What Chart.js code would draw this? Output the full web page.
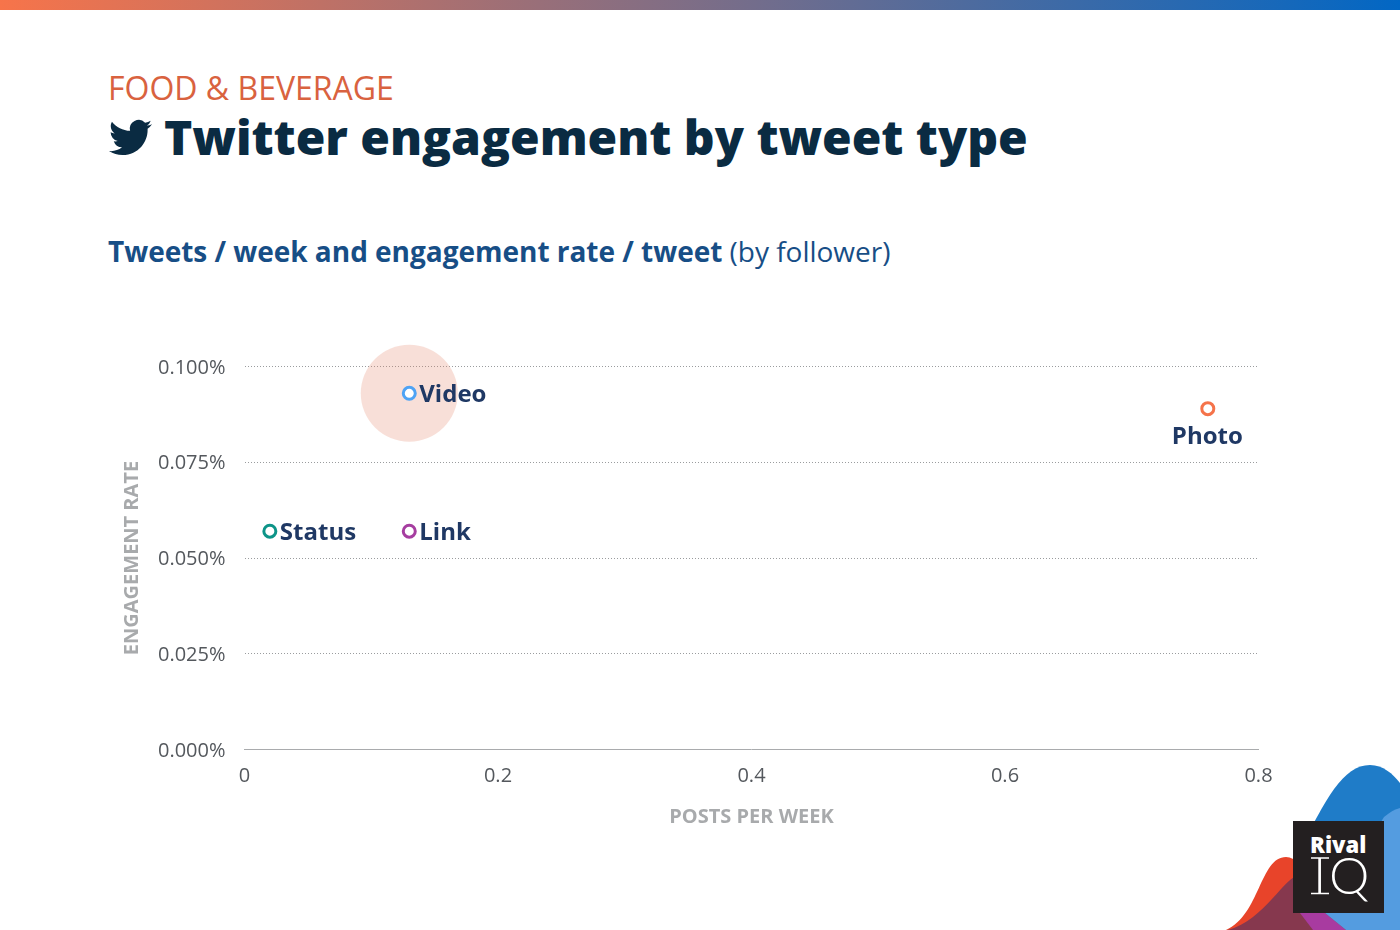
<!DOCTYPE html>
<html>
<head>
<meta charset="utf-8">
<title>Twitter engagement by tweet type</title>
<script src="https://cdn.jsdelivr.net/npm/chart.js@4"></script>
<style>
  html, body { margin: 0; padding: 0; background: #fff; }
  body { width: 1400px; height: 930px; position: relative; overflow: hidden; font-family: "Open Sans", sans-serif; }
  .top-bar { position: absolute; left: 0; top: 0; width: 1400px; height: 10px; background: linear-gradient(90deg, #f7744a, #0267c4); }
  .eyebrow { position: absolute; left: 108px; top: 66px; font-size: 32px; line-height: 44px; color: #d9623f; white-space: nowrap; }
  .bird { position: absolute; left: 109px; top: 116px; width: 43px; height: 43px; fill: #0a2b42; }
  .title { position: absolute; left: 164px; top: 105px; font-size: 48px; line-height: 64px; font-weight: 800; color: #0a2b42; white-space: nowrap; letter-spacing: -0.03px; }
  .subtitle { position: absolute; left: 108px; top: 231px; font-size: 28px; line-height: 40px; font-weight: 700; color: #174e86; white-space: nowrap; letter-spacing: -0.02px; }
  .subtitle span { font-weight: 400; }
  #chart { position: absolute; left: 0; top: 0; }
  .logo { position: absolute; left: 1200px; top: 750px; width: 200px; height: 180px; }
</style>
</head>
<body>
<div class="top-bar"></div>
<div class="eyebrow">FOOD &amp; BEVERAGE</div>
<svg class="bird" viewBox="0 0 24 24"><path d="M23.953 4.57a10 10 0 01-2.825.775 4.958 4.958 0 002.163-2.723c-.951.555-2.005.959-3.127 1.184a4.92 4.92 0 00-8.384 4.482C7.69 8.095 4.067 6.13 1.64 3.162a4.822 4.822 0 00-.666 2.475c0 1.71.87 3.213 2.188 4.096a4.904 4.904 0 01-2.228-.616v.06a4.923 4.923 0 003.946 4.827 4.996 4.996 0 01-2.212.085 4.936 4.936 0 004.604 3.417 9.867 9.867 0 01-6.102 2.105c-.39 0-.779-.023-1.17-.067a13.995 13.995 0 007.557 2.209c9.053 0 13.998-7.496 13.998-13.985 0-.21 0-.42-.015-.63A9.935 9.935 0 0024 4.59z"/></svg>
<div class="title">Twitter engagement by tweet type</div>
<div class="subtitle">Tweets / week and engagement rate / tweet <span>(by follower)</span></div>
<canvas id="chart" width="1400" height="930"></canvas>
<svg class="logo" viewBox="0 0 200 180">
  <path d="M100 100 C125 50 143 15 170 15 C183 15 193 24 200 33 L200 180 L120 180 Z" fill="#1f7cc8"/>
  <path d="M26 180 C60 165 60 107 86 107 C105 107 125 150 155 180 Z" fill="#e8442a"/>
  <path d="M28 180 C65 170 85 125 100 125 C125 150 140 165 155 180 Z" fill="#86384e"/>
  <path d="M100 163 L125 163 L146 180 L113 180 Z" fill="#a83ba0"/>
  <path d="M125 163 L184 67 C190 62 195 59 200 58 L200 180 L146 180 Z" fill="#549ce0"/>
  <rect x="93" y="71" width="91" height="92" fill="#231f20"/>
  <text x="110" y="103" font-family="Open Sans" font-weight="800" font-size="22" fill="#fff">Rival</text>
  <path d="M111 108 H129 M111 143.5 H129" stroke="#fff" stroke-width="1.5"/>
  <text y="144" font-family="Lato" font-weight="300" font-size="51" fill="#fff"><tspan x="113">I</tspan><tspan x="129">Q</tspan></text>
</svg>
<script>
// chart values
const categories = ['Video', 'Photo', 'Status', 'Link'];
const postsPerWeek = [0.13, 0.76, 0.02, 0.13];
const engagementRate = [0.093, 0.089, 0.057, 0.057];
const pointColors = ['#4ea3f5', '#f5734a', '#0d9488', '#a63da0'];
const labelSides = ['right', 'below', 'right', 'right'];
const highlightPosts = [0.13];
const highlightRate = [0.093];
const yTicks = [0, 0.025, 0.05, 0.075, 0.1];
const xTicks = [0, 0.2, 0.4, 0.6, 0.8];

// draws the category names beside the points
const pointLabels = {
    id: 'pointLabels',
    afterDatasetsDraw(chart) {
        const { ctx, scales } = chart;
        ctx.save();
        ctx.font = '700 24px "Open Sans"';
        ctx.fillStyle = '#1f3864';
        categories.forEach((name, i) => {
            const px = scales.x.getPixelForValue(postsPerWeek[i]);
            const py = scales.y.getPixelForValue(engagementRate[i]);
            ctx.textBaseline = 'middle';
            if (labelSides[i] === 'below') {
                ctx.textAlign = 'center';
                ctx.fillText(name, px - 0.5, py + 29);
            } else {
                ctx.textAlign = 'left';
                ctx.fillText(name, px + 10, py + 2);
            }
        });
        ctx.restore();
    }
};

new Chart(document.getElementById('chart'), {
    type: 'bubble',
    data: {
        datasets: [
            {
                label: 'Highlight',
                data: highlightPosts.map((x, i) => ({ x: x, y: highlightRate[i], r: 48.5 })),
                backgroundColor: 'rgba(227,127,99,0.25)',
                borderWidth: 0,
                clip: false,
                order: 2
            },
            {
                label: 'Tweet type',
                data: categories.map((c, i) => ({ x: postsPerWeek[i], y: engagementRate[i], r: 6 })),
                backgroundColor: '#fff',
                borderColor: pointColors,
                borderWidth: 3,
                clip: false,
                order: 1
            }
        ]
    },
    plugins: [pointLabels],
    options: {
        responsive: false,
        animation: false,
        devicePixelRatio: 1,
        layout: { padding: { left: 120.5, top: 366.5, right: 141.5, bottom: 101 } },
        plugins: { legend: { display: false }, tooltip: { enabled: false } },
        scales: {
            x: {
                type: 'linear',
                min: 0,
                max: 0.8,
                afterBuildTicks: scale => { scale.ticks = xTicks.map(v => ({ value: v })); },
                afterFit: scale => { scale.height = 79.5; },
                grid: { display: false },
                border: { display: true, color: '#a9abad', width: 1 },
                ticks: { color: '#54585d', font: { size: 20, family: 'Open Sans' }, padding: 7, maxRotation: 0, callback: v => String(v) },
                title: { display: true, text: 'POSTS PER WEEK', color: '#a8aaac', font: { size: 20, weight: '700', family: 'Open Sans' }, padding: 0 }
            },
            y: {
                type: 'linear',
                min: 0,
                max: 0.1,
                afterBuildTicks: scale => { scale.ticks = yTicks.map(v => ({ value: v })); },
                afterFit: scale => { scale.width = 124; },
                grid: {
                    color: ctx => (ctx.tick && ctx.tick.value === 0 ? 'rgba(0,0,0,0)' : '#9a9c9e'),
                    drawTicks: false,
                    lineWidth: 1
                },
                border: { display: false, dash: [1, 2] },
                ticks: { color: '#54585d', font: { size: 20, family: 'Open Sans' }, padding: 19, labelOffset: 1.5, callback: v => v.toFixed(3) + '%' },
                title: { display: true, text: 'ENGAGEMENT RATE', color: '#a8aaac', font: { size: 20, weight: '700', family: 'Open Sans' }, padding: 0 }
            }
        }
    }
});
</script>
</body>
</html>
